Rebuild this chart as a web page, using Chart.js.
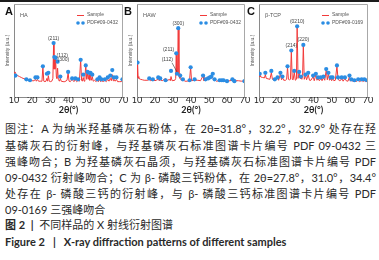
<!DOCTYPE html>
<html><head><meta charset="utf-8">
<script src="https://cdn.jsdelivr.net/npm/chart.js@4/dist/chart.umd.min.js"></script>
<style>
html,body{margin:0;padding:0;background:#fff;}
body{width:379px;height:260px;position:relative;overflow:hidden;font-family:Lato,"Noto Sans CJK SC",sans-serif;}
canvas{position:absolute;top:0;}
.topband{position:absolute;left:0;top:0;width:379px;height:2px;background:#1c1c1c;}
.letter{position:absolute;top:5px;font:bold 11px "Liberation Sans",Arial,sans-serif;color:#111;}
.cap{position:absolute;left:5px;width:371px;font-size:11px;line-height:16px;height:16px;color:#2a2a2a;white-space:nowrap;}
.just{text-align:justify;text-align-last:justify;white-space:normal;}
.b{font-weight:bold;}
</style></head><body>
<div class="topband"></div>
<canvas id="cA" width="134" height="116" style="left:0px"></canvas>
<canvas id="cB" width="134" height="116" style="left:123px"></canvas>
<canvas id="cC" width="134" height="116" style="left:245px"></canvas>
<div class="letter" style="left:5px">A</div>
<div class="letter" style="left:124px">B</div>
<div class="letter" style="left:247px">C</div>
<div class="cap just" style="top:121px">图注：A 为纳米羟基磷灰石粉体，在 2θ=31.8°，32.2°，32.9° 处存在羟</div>
<div class="cap just" style="top:138px">基磷灰石的衍射峰，与羟基磷灰石标准图谱卡片编号 PDF 09-0432 三</div>
<div class="cap just" style="top:154px">强峰吻合；B 为羟基磷灰石晶须，与羟基磷灰石标准图谱卡片编号 PDF</div>
<div class="cap just" style="top:170px">09-0432 衍射峰吻合；C 为 β- 磷酸三钙粉体，在 2θ=27.8°，31.0°，34.4°</div>
<div class="cap just" style="top:186px">处存在 β- 磷酸三钙的衍射峰，与 β- 磷酸三钙标准图谱卡片编号 PDF</div>
<div class="cap" style="top:202px">09-0169 三强峰吻合</div>
<div class="cap" style="top:217px"><span class="b">图 2</span>&nbsp;&nbsp;<span class="b">|</span>&nbsp;&nbsp;不同样品的 X 射线衍射图谱</div>
<div class="cap b" style="top:234px">Figure 2&nbsp;&nbsp;&nbsp;|&nbsp;&nbsp;&nbsp;X-ray diffraction patterns of different samples</div>
<script>
// ---- tick labels ----
const xTicks = [10, 20, 30, 40, 50, 60, 70];

// ---- Panel A : HA ----
const sampleA_x = [10,10.5,11,12,13,14,15,16,17,18,19,20,21,21.8,22.3,22.9,23.5,24.5,25.4,25.9,26.4,27,27.6,28.1,28.5,28.9,29.4,30,30.8,31.4,31.8,32.0,32.2,32.5,32.9,33.3,33.6,34.0,34.4,35,35.5,36,37,38,39.2,39.8,40.3,41,42,43,43.8,44.5,45.3,46,46.7,47.2,47.6,48.1,48.6,49.0,49.5,50,50.5,50.9,51.3,51.7,52.1,52.6,53.1,53.6,54.4,55.2,55.9,56.5,57.1,57.7,58.1,59,60,60.8,61.6,62.3,63,63.6,64.1,64.6,65,65.7,66.4,67,68,69,69.7,70];
const sampleA_y = [26,27,25,23,22,21,20,19.5,19,18.5,18,17.5,17.5,19,17,19,17,17,17,33,17,16.5,17,20,17,23,17,16.5,17,20,58,30,44,30,41,22,20,31,19,17,20,17,16.5,16.5,18,26,17,16.5,19,16.5,19,16.5,18,17,40,18,17,21,17,19,35,19,25,19,24,18,24,18,22,17,18,16.5,18,16.5,19,16.5,18,16.5,18,16.5,19,17,20,17.5,24,17.5,19,17,19,16.5,16.5,16.5,17.5,16.5];
const pdfA_x = [10.8,16.8,18.8,21.8,22.9,25.9,28.1,28.9,31.8,32.2,32.9,34.0,35.5,39.8,42.0,43.8,45.3,46.7,48.1,49.5,50.5,51.3,52.1,53.1,55.9,57.1,58.1,60.0,61.6,63.0,64.1,65.0,66.4,69.7];
const pdfA_y = [23,19,18,21,21,33,25,26,58,43,42,38,22,27,20,20,19,40,24,34,27,26,26,24,19,21,19,19,21,23,29,21,21,19];

// ---- Panel B : HAW ----
const sampleB_x = [10,10.3,10.6,11,12,13,14,16,16.8,17.5,18.8,20,21.8,22.3,22.9,24,25.9,26.5,28.1,28.5,28.9,29.5,31,31.5,31.8,32.0,32.2,32.5,32.9,33.3,33.7,34.0,34.5,35.5,36.5,38,39.2,39.8,40.3,42,43.8,45.3,46.7,47.2,48.1,49.5,50.5,51.3,52.1,53.1,54,55.9,57.1,58.1,60,61.6,63,64.1,65,66.4,68,69.7,70];
const sampleB_y = [21,37,22,20,19,18.5,18,18,19,17.5,18.5,17.5,19,17.5,18.5,17.5,20,17.5,19,17.5,22,17.5,18,20,47,25,28,25,74,23,20,25,18,19,17,17,18,32,17.5,18,18,17.5,23,17.5,19,22,21,22,20,19,17,17.5,18,17.5,17.5,17.5,18,19,17.5,17.5,17,17.5,17];
const pdfB_x = [10.3,16.8,18.8,21.8,22.9,25.9,28.9,31.8,32.2,32.9,34.0,35.5,39.2,39.8,42.0,46.7,48.1,49.5,50.5,51.3,52.1,53.1,55.9,57.1,58.1,60.0,63.0,64.1,69.7];
const pdfB_y = [37,20,19,21,20,18,28,47,25,74,23,19,18,32,19,23,19,20,21,22,25,19,18,18,18,17,19,17,17];

// ---- Panel C : beta-TCP ----
const sampleC_x = [10,10.4,11,12,13,13.5,14,15,16,16.8,17.4,18,18.7,19.3,20.2,20.8,21.8,22.4,22.9,23.6,24.6,25.2,25.7,26.2,26.8,27.3,27.8,28.3,28.8,29.4,30,30.6,31.0,31.5,32.1,32.6,33.0,33.6,34.0,34.4,34.9,35.6,36.2,37.1,37.8,38.6,39.8,40.4,41.3,41.9,42.5,43.2,44,44.7,45.5,46.2,47.0,47.6,48.2,48.8,49.5,50,50.5,51.2,52,52.9,53.5,54.2,55,55.5,56.3,57.3,58,59,59.8,60.3,60.8,61.6,62.5,63.4,64.6,65.4,66.5,67.2,68,68.8,69.5,70];
const sampleC_y = [22,24,21.5,21,20.5,24,20,19.5,19,26,19,18.5,19,18,21,18,25,18.5,21,18,18,19,32,19,18.5,19,50,19,18.5,27,18,19,76,20,26,20,22,19,23,56,19,23,18.5,24,18,18,22,17.5,24,18,20,17.5,20,17.5,21,18,29,18.5,25,18,20,17.5,20,17.5,18,33,20,17.5,18,20,17,20,17.5,17,22,17,18.5,17,17.5,16.5,18.5,16.5,18,16.5,18,16.5,17.5,16.5];
const pdfC_x = [10.4,13.5,16.8,18.7,20.2,21.8,22.9,25.7,27.8,29.4,31.0,32.1,33.0,34.4,35.6,37.1,39.8,41.3,42.5,44.0,45.5,47.0,48.2,49.5,50.5,52.9,53.5,55.5,57.3,59.8,60.8,62.5,64.6,66.5,68.0,69.5];
const pdfC_y = [25,26,28,19,21,26,22,33,50,28,76,27,22,56,24,26,23,25,21,21,22,30,26,21,21,34,21,21,21,23,19,18,19,19,19,18];

// ---- texts ----
const panelNames = ['HA', 'HAW', 'β-TCP'];
const pdfNames = ['PDF#09-0432', 'PDF#09-0432', 'PDF#09-0169'];
const peakLabelsA = [{x:31.8, y:58, t:'(211)', dx:0, dy:-4, al:'center'}, {x:32.9, y:44, t:'(112)', dx:1, dy:0, al:'left'}, {x:33.4, y:40, t:'(300)', dx:1, dy:0, al:'left'}];
const peakLabelsB = [{x:32.9, y:74, t:'(300)', dx:0, dy:-5, al:'center'}, {x:31.8, y:47, t:'(211)', dx:-2, dy:-4, al:'right'}, {x:30.0, y:40, t:'(112)', dx:0, dy:0, al:'right', arrow:{x:32.2, y:27}}];
const peakLabelsC = [{x:31.0, y:76, t:'(0210)', dx:0, dy:-5, al:'center'}, {x:27.8, y:50, t:'(214)', dx:0, dy:-5, al:'center'}, {x:34.4, y:56, t:'(220)', dx:0, dy:-5, al:'center'}];

const RED = '#f23a3a', BLUE = '#2b8de3';

function pts(xs, ys){ return xs.map((x,i)=>({x:x, y:ys[i]})); }

function makeDecor(name, pdfName, peaks){
  return {
    id:'decor',
    afterDatasetsDraw(chart){
      const ctx = chart.ctx, a = chart.chartArea, sx = chart.scales.x, sy = chart.scales.y;
      ctx.save();
      ctx.strokeStyle = '#a8a8a8'; ctx.lineWidth = 1;
      ctx.beginPath();
      ctx.moveTo(a.left, a.top+0.5); ctx.lineTo(a.right-0.5, a.top+0.5); ctx.lineTo(a.right-0.5, a.bottom);
      ctx.stroke();
      ctx.font = '5.5px "Liberation Sans", Arial, sans-serif';
      ctx.fillStyle = '#555'; ctx.textBaseline = 'middle'; ctx.textAlign = 'left';
      ctx.fillText(name, a.left + 6, a.top + 11);
      const lx = a.left + 63;
      ctx.strokeStyle = RED; ctx.lineWidth = 1;
      ctx.beginPath(); ctx.moveTo(lx, a.top + 11.5); ctx.lineTo(lx + 7, a.top + 11.5); ctx.stroke();
      ctx.font = '5px "Liberation Sans", Arial, sans-serif';
      ctx.fillText('Sample', lx + 10, a.top + 11);
      ctx.fillStyle = BLUE;
      [lx + 1, lx + 6].forEach(px => { ctx.beginPath(); ctx.arc(px, a.top + 19, 1.8, 0, Math.PI*2); ctx.fill(); });
      ctx.fillStyle = '#555';
      ctx.fillText(pdfName, lx + 10, a.top + 19);
      ctx.font = '5px "Liberation Sans", Arial, sans-serif';
      ctx.fillStyle = '#444';
      peaks.forEach(p => {
        const px = sx.getPixelForValue(p.x) + p.dx, py = sy.getPixelForValue(p.y) + p.dy;
        ctx.textAlign = p.al;
        ctx.fillText(p.t, px, py);
        if (p.arrow){
          ctx.strokeStyle = '#333'; ctx.lineWidth = 0.6;
          ctx.beginPath(); ctx.moveTo(px - 1, py + 3);
          ctx.lineTo(sx.getPixelForValue(p.arrow.x), sy.getPixelForValue(p.arrow.y)); ctx.stroke();
        }
      });
      ctx.restore();
    }
  };
}

function makeChart(id, sx, sy, px, py, idx, peaks, padRight){
  new Chart(document.getElementById(id), {
    type:'scatter',
    data:{datasets:[
      {label:'Sample', data:pts(sx, sy), showLine:true, borderColor:RED, borderWidth:1, pointRadius:0, tension:0, order:2},
      {label:pdfNames[idx], data:pts(px, py), showLine:false, backgroundColor:BLUE, borderWidth:0, pointRadius:2.1, order:1}
    ]},
    options:{
      animation:false, responsive:false, devicePixelRatio:1,
      layout:{padding:{left:0, right:padRight, top:4, bottom:1}},
      plugins:{legend:{display:false}, tooltip:{enabled:false}},
      scales:{
        x:{type:'linear', min:xTicks[0], max:xTicks[xTicks.length-1],
           afterBuildTicks(s){ s.ticks = xTicks.map(v=>({value:v})); },
           ticks:{font:{size:9, family:'Lato'}, color:'#222', padding:-2.5, maxRotation:0},
           grid:{display:false, drawTicks:false, tickLength:0}, border:{color:'#8a8a8a'},
           title:{display:true, text:'2θ(°)', font:{size:9, weight:'bold', family:'Lato'}, color:'#222', padding:{top:0,bottom:0}},
           afterFit(s){ s.height = 18; s.paddingLeft = 0; s.paddingRight = 0; }},
        y:{min:0, max:100, ticks:{display:false}, grid:{display:false, drawTicks:false, tickLength:0}, border:{color:'#8a8a8a'},
           title:{display:true, text:'Intensity (a.u.)', font:{size:5, family:'Liberation Sans'}, color:'#555', padding:{top:5, bottom:0}},
           afterFit(s){ s.width = 14; }}
      }
    },
    plugins:[makeDecor(panelNames[idx], pdfNames[idx], peaks)]
  });
}

makeChart('cA', sampleA_x, sampleA_y, pdfA_x, pdfA_y, 0, peakLabelsA, 11);
makeChart('cB', sampleB_x, sampleB_y, pdfB_x, pdfB_y, 1, peakLabelsB, 12);
makeChart('cC', sampleC_x, sampleC_y, pdfC_x, pdfC_y, 2, peakLabelsC, 11);
</script>
</body></html>
